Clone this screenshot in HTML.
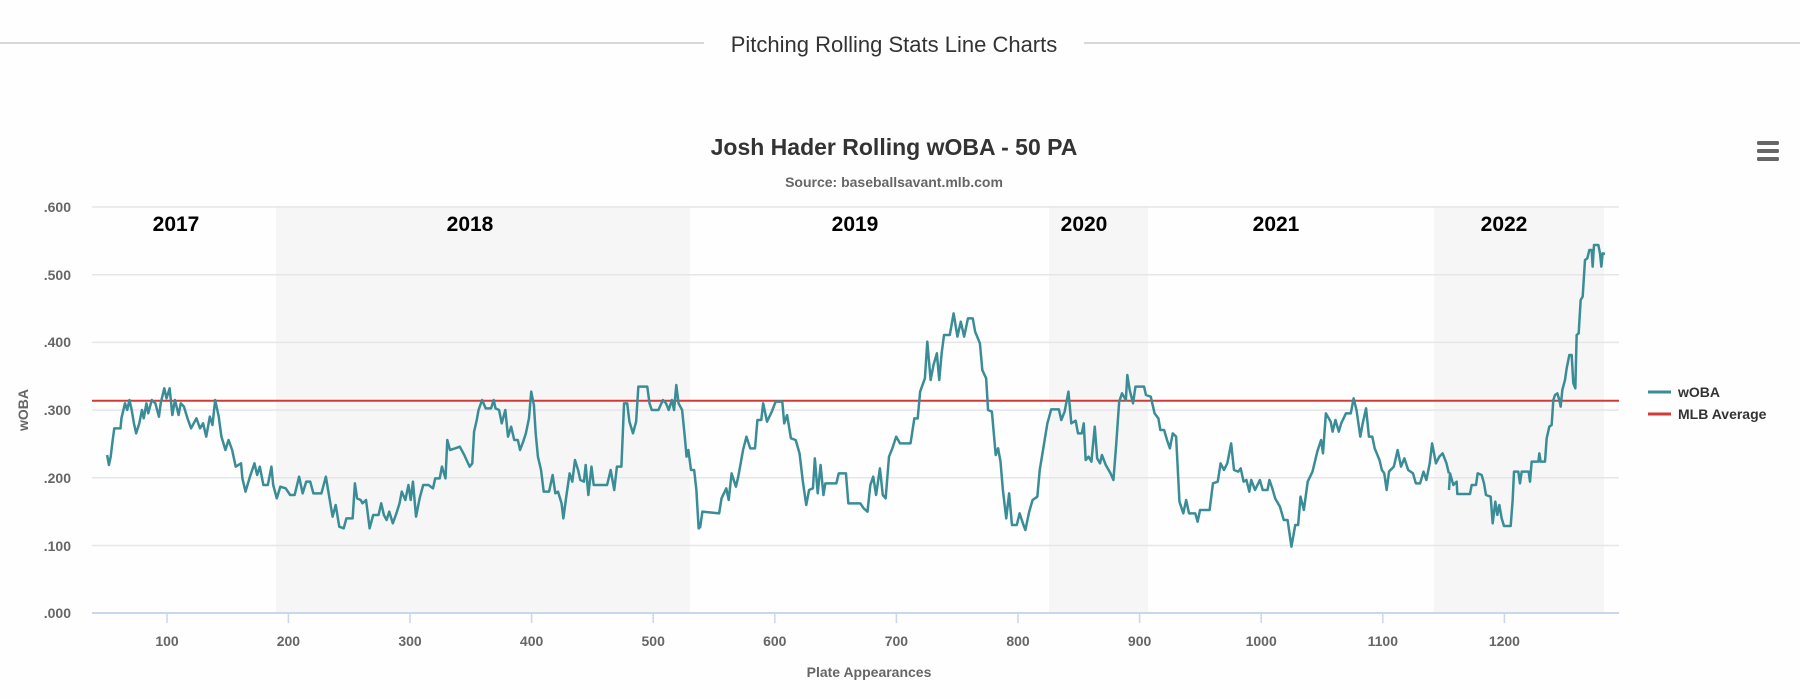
<!DOCTYPE html>
<html><head><meta charset="utf-8"><style>
html,body{margin:0;padding:0;background:#fff;width:1800px;height:699px;overflow:hidden}
text{font-family:"Liberation Sans Narrow","Liberation Sans",sans-serif}
</style></head><body>
<svg width="1800" height="699" viewBox="0 0 1800 699" xmlns="http://www.w3.org/2000/svg">
<rect width="1800" height="699" fill="#fefefe"/>
<rect x="0" y="42" width="704" height="2" fill="#d8d8d8"/>
<rect x="1084" y="42" width="716" height="2" fill="#d8d8d8"/>
<text x="894" y="52" text-anchor="middle" font-size="22" fill="#333">Pitching Rolling Stats Line Charts</text>
<text x="894" y="155" text-anchor="middle" font-size="23" font-weight="bold" fill="#333">Josh Hader Rolling wOBA - 50 PA</text>
<text x="894" y="187" text-anchor="middle" font-size="14" font-weight="bold" fill="#666">Source: baseballsavant.mlb.com</text>
<g fill="#666"><rect x="1757" y="141" width="22" height="4" rx="1.5"/><rect x="1757" y="149" width="22" height="4" rx="1.5"/><rect x="1757" y="157" width="22" height="4" rx="1.5"/></g>
<!-- bands -->
<g fill="#f6f6f7">
<rect x="276" y="206" width="414" height="407"/>
<rect x="1049" y="206" width="99" height="407"/>
<rect x="1434" y="206" width="170" height="407"/>
</g>
<!-- grid -->
<g stroke="#e6e6e6" stroke-width="1.5">
<line x1="92" x2="1619" y1="207" y2="207"/>
<line x1="92" x2="1619" y1="274.7" y2="274.7"/>
<line x1="92" x2="1619" y1="342.4" y2="342.4"/>
<line x1="92" x2="1619" y1="410.1" y2="410.1"/>
<line x1="92" x2="1619" y1="477.8" y2="477.8"/>
<line x1="92" x2="1619" y1="545.5" y2="545.5"/>
</g>
<line x1="92" x2="1619" y1="613" y2="613" stroke="#ccd6eb" stroke-width="2"/>
<g stroke="#ccd6eb" stroke-width="1.5">
<line x1="167" x2="167" y1="613" y2="623"/><line x1="288.4" x2="288.4" y1="613" y2="623"/><line x1="410" x2="410" y1="613" y2="623"/><line x1="531.6" x2="531.6" y1="613" y2="623"/><line x1="653.2" x2="653.2" y1="613" y2="623"/><line x1="774.8" x2="774.8" y1="613" y2="623"/><line x1="896.4" x2="896.4" y1="613" y2="623"/><line x1="1018" x2="1018" y1="613" y2="623"/><line x1="1139.6" x2="1139.6" y1="613" y2="623"/><line x1="1261.2" x2="1261.2" y1="613" y2="623"/><line x1="1382.8" x2="1382.8" y1="613" y2="623"/><line x1="1504.4" x2="1504.4" y1="613" y2="623"/>
</g>
<g font-size="14" font-weight="bold" fill="#666" text-anchor="end">
<text x="71" y="212">.600</text><text x="71" y="280">.500</text><text x="71" y="347">.400</text><text x="71" y="415">.300</text><text x="71" y="483">.200</text><text x="71" y="551">.100</text><text x="71" y="618">.000</text>
</g>
<g font-size="14" font-weight="bold" fill="#666" text-anchor="middle">
<text x="167" y="646">100</text><text x="288.4" y="646">200</text><text x="410" y="646">300</text><text x="531.6" y="646">400</text><text x="653.2" y="646">500</text><text x="774.8" y="646">600</text><text x="896.4" y="646">700</text><text x="1018" y="646">800</text><text x="1139.6" y="646">900</text><text x="1261.2" y="646">1000</text><text x="1382.8" y="646">1100</text><text x="1504.4" y="646">1200</text>
<text x="869" y="677">Plate Appearances</text>
<text transform="translate(28,410) rotate(-90)">wOBA</text>
</g>
<g font-size="21" font-weight="bold" fill="#000" text-anchor="middle">
<text x="176" y="231">2017</text><text x="470" y="231">2018</text><text x="855" y="231">2019</text><text x="1084" y="231">2020</text><text x="1276" y="231">2021</text><text x="1504" y="231">2022</text>
</g>
<line x1="92" x2="1619" y1="400.7" y2="400.7" stroke="#d33a35" stroke-width="2"/>
<g fill="none" stroke="#3a8d96" stroke-width="2.5" stroke-linejoin="round">
<polyline vector-effect="non-scaling-stroke" transform="translate(0,170) scale(0.4464,0.33333)" points="240,855 244,885 248,860 252,815 256,775 270,775 272,745 280,700 285,720 290,690 295,720 300,760 305,790 312,760 318,720 322,745 328,700 332,730 340,690 348,700 356,740 360,700 368,655 373,685 380,655 386,735 392,690 400,735 405,700 412,710 420,745 428,775 440,745 448,775 455,760 462,800 470,740 476,765 482,690 490,740 496,800 505,840 512,810 520,840 528,890 540,880 543,925 550,965 560,920 570,880 576,915 582,890 590,945 600,945 608,890 612,945 620,985 628,950 640,955 650,975 660,975 670,920 678,970 686,935 695,935 702,970 720,970 730,920 740,1000 745,1040 752,1005 760,1070 770,1075 776,1045 790,1045 795,940 800,985 808,990 812,1000 820,990 828,1075 836,1035 848,1035 854,1000 860,1035 866,1050 872,1025 880,1060 888,1030 895,1000 900,965 908,990 915,945 920,990 925,935 932,1040 940,985 948,945 960,945 970,955 975,925 985,925 990,890 998,925 1002,810 1008,840 1020,835 1030,830 1040,855 1052,890 1058,880 1062,785 1068,750 1072,720 1080,690 1088,715 1100,715 1106,690 1110,715 1118,720 1124,760 1132,720 1138,800 1145,770 1152,810 1160,810 1165,840 1172,815 1178,790 1185,745 1190,665 1196,705 1200,790 1205,860 1212,900 1218,965 1230,965 1238,915 1244,970 1250,965 1258,1000 1262,1045 1268,985 1276,910 1282,935 1288,870 1295,900 1300,930 1308,935 1312,885 1318,975 1325,890 1330,945 1360,945 1368,900 1376,960 1382,890 1392,890 1398,700 1405,700 1410,755 1418,790 1425,755 1430,650 1450,650 1455,700 1460,720 1475,720 1485,690 1492,700 1498,720 1505,690 1510,720 1515,645 1520,700 1528,720 1534,800 1538,860 1542,840 1548,900 1555,900 1560,960 1565,1075 1568,1075"/>
<polyline vector-effect="non-scaling-stroke" transform="translate(700,170) scale(0.4785,0.33333)" points="0,1075 5,1025 40,1030 45,985 55,955 60,990 66,910 75,950 80,920 90,840 97,800 105,835 115,835 120,750 128,750 132,700 140,755 150,725 158,695 172,695 176,760 182,735 190,805 200,810 208,850 215,935 222,1005 228,960 236,955 240,865 246,970 252,885 258,975 262,940 285,940 290,910 305,910 310,1000 335,1000 342,1015 350,1025 356,945 362,920 368,975 376,895 382,975 388,985 395,860 402,835 410,800 418,820 440,820 448,745 455,745 460,665 470,625 475,515 482,630 488,585 495,550 500,630 505,550 510,495 522,495 530,430 538,500 545,455 552,500 560,445 570,445 575,485 585,520 590,600 598,625 602,720 610,725 618,855 623,835 628,875 633,960 640,1045 646,970 652,1065 662,1065 668,1030 676,1065 680,1080 688,1025 695,990 705,980 710,900 718,830 726,760 734,718 750,718 755,750 762,725 770,665 776,760 785,752 790,790 798,790 802,760 806,870 812,860 818,875 825,770 830,865 836,880 840,855 848,885 858,910 864,930 870,820 876,695 882,670 890,690 893,615 898,660 905,700 910,650 928,650 932,675 942,680 950,730 958,745 962,780 970,780 976,810 982,835 988,790 995,800 1002,995 1010,1030 1016,990 1022,1030 1035,1030 1040,1055 1045,1020 1065,1020 1072,940 1082,935 1088,880 1095,900 1102,880 1110,820 1116,900 1125,905 1130,895 1136,935 1142,930 1148,965 1152,930 1160,960 1170,930 1176,960 1186,960 1190,930 1196,955 1202,985 1212,1010 1220,1050 1228,1050 1236,1130 1244,1065 1250,1065 1255,980 1262,1020 1270,935 1280,905 1290,845 1298,810 1302,850 1308,730 1318,755 1322,785 1328,750 1335,785 1340,760 1350,730 1360,730 1366,685 1372,720 1380,800 1385,760 1392,715 1398,800 1405,800 1410,835 1420,870 1425,900 1430,910 1435,960 1440,905 1450,890 1458,840 1465,890 1472,865 1480,900 1490,910 1496,940 1505,940 1512,905 1518,930 1525,880 1530,820 1538,880 1545,860 1552,850 1560,880 1565,910"/>
<polyline vector-effect="non-scaling-stroke" transform="translate(1300,190) scale(0.33333)" points="447,900 450,850 460,885 470,875 472,912 510,912 515,885 528,885 533,850 545,855 552,880 558,915 572,920 578,1000 586,935 592,975 598,945 605,985 612,1008 632,1008 638,930 642,845 655,845 660,880 665,845 686,845 690,875 695,815 715,815 718,790 722,815 735,815 740,745 748,710 755,705 760,630 765,615 772,610 778,630 782,650 787,600 795,570 800,535 808,495 815,495 820,580 826,595 830,435 836,430 842,330 848,320 855,210 862,205 868,180 875,180 878,230 882,165 895,165 900,190 904,230 908,190 915,192"/>
</g>
<!-- legend -->
<line x1="1648" x2="1671" y1="392" y2="392" stroke="#3a8d96" stroke-width="3"/>
<line x1="1648" x2="1671" y1="414" y2="414" stroke="#d33a35" stroke-width="3"/>
<g font-size="14" font-weight="bold" fill="#333">
<text x="1678" y="397">wOBA</text>
<text x="1678" y="419">MLB Average</text>
</g>
</svg>
</body></html>
